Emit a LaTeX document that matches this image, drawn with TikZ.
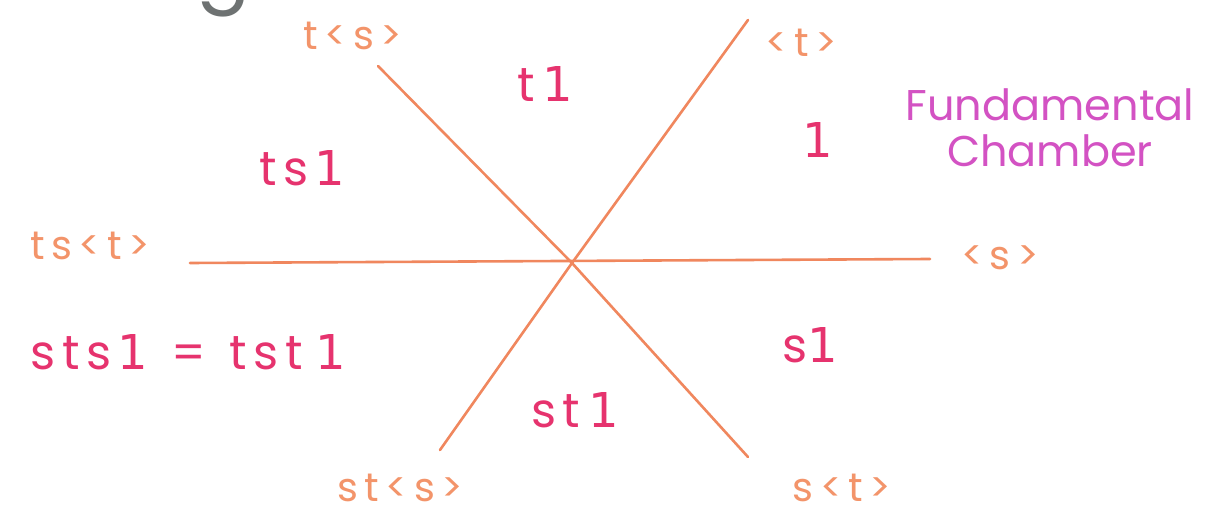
\documentclass[tikz,border=0pt]{standalone}
\usepackage{fontspec}
\setmainfont{Poppins}
\newfontfamily\handfont[LetterSpace=14]{Poppins}
\newfontfamily\wallfont[LetterSpace=16]{Poppins}
\newfontfamily\onefont{DejaVu Sans}
\newcommand{\digone}{{\onefont 1}}
\definecolor{lineor}{HTML}{F0875E}
\definecolor{labor}{HTML}{F3946A}
\definecolor{pinkt}{HTML}{E6336E}
\definecolor{magt}{HTML}{D352C3}
\definecolor{greyt}{HTML}{6E7272}
\begin{document}
\begin{tikzpicture}[x=1pt,y=-1pt,
  mirror/.style={draw=lineor,line width=2.6pt,line cap=round},
  wall/.style={text=labor,font=\wallfont\fontsize{40}{40}\selectfont,inner sep=0pt},
  coset/.style={text=pinkt,font=\handfont\fontsize{48}{50}\selectfont,inner sep=0pt},
  chamb/.style={text=magt,font=\fontsize{43}{46}\selectfont,inner sep=0pt,align=center}]
\useasboundingbox (0,0) rectangle (1210,529);
\fill[white] (0,0) rectangle (1210,529);
% fragment of text cut at the top edge
\node[text=greyt,font=\fontsize{80}{80}\selectfont,anchor=base] (gfrag) at (224,-4) {g};
% mirrors
\coordinate (c) at (572,263);
\coordinate (hL) at (190,263);
\coordinate (hR) at (930,259);
\coordinate (aT) at (378,66);
\coordinate (aB) at (748,457);
\coordinate (bT) at (748,20);
\coordinate (bB) at (440,450);
\draw[mirror] (hL) -- (hR);
\draw[mirror] (aT) -- (c) -- (aB);
\draw[mirror] (bT) -- (c) -- (bB);
% wall labels
\node[wall] (ltss) at (353,36) {t\,<s>};
\node[wall] (lt) at (801,43) {<t>};
\node[wall] (ltst) at (90,246) {ts\,<t>};
\node[wall] (ls) at (1000,258) {<s>};
\node[wall] (lsts) at (400,488) {st\,<s>};
\node[wall] (lst) at (842,488) {s<t>};
% chambers
\node[coset] (c1) at (545,84) {t\hspace{8pt}\digone};
\node[coset] (c0) at (818,140) {\digone};
\node[coset] (c2) at (302,168) {ts\hspace{6pt}\digone};
\node[coset] (c3) at (188,352) {sts\hspace{6pt}\digone\hspace{4pt} = \hspace{4pt}tst\hspace{12pt}\digone};
\node[coset] (c4) at (810,345) {s\digone};
\node[coset] (c5) at (575,410) {st\hspace{8pt}\digone};
\node[chamb] (fc) at (1050,128) {Fundamental\\Chamber};
\end{tikzpicture}
\end{document}
